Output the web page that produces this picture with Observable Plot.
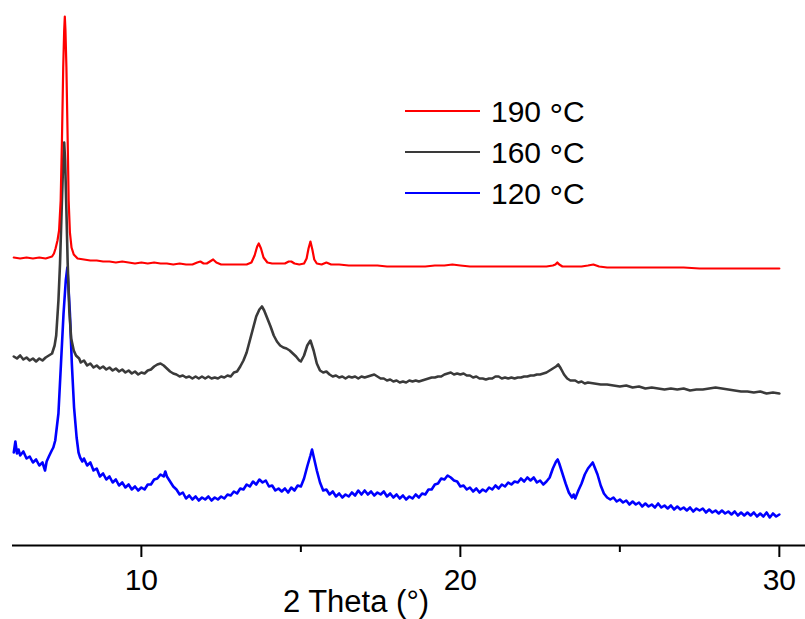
<!DOCTYPE html>
<html>
<head>
<meta charset="utf-8">
<script src="https://cdn.jsdelivr.net/npm/d3@7"></script>
<script src="https://cdn.jsdelivr.net/npm/@observablehq/plot@0.6"></script>
<style>
  html, body { margin: 0; padding: 0; background: #fff; }
  #wrap { position: relative; width: 805px; height: 619px; }
  #wrap svg { display: block; }
  #overlay { position: absolute; left: 0; top: 0; pointer-events: none; }
</style>
</head>
<body>
<div id="wrap"></div>
<script>
// XRD patterns: [2θ (°), stacked intensity (a.u.)]
const series190 = [
[6.00,288],[6.20,287],[6.40,288],[6.60,287],[6.80,288],[7.00,287],[7.10,288],[7.20,289],[7.26,292],[7.31,297],
[7.37,305],[7.42,315],[7.47,345],[7.51,405],[7.55,478],[7.58,515],[7.60,529],[7.62,515],[7.65,478],[7.69,405],
[7.72,345],[7.76,313],[7.81,298],[7.88,291],[8.00,287],[8.20,286],[8.40,285],[8.60,285],[8.80,284],[9.00,284],
[9.20,283],[9.40,284],[9.60,283],[9.80,282],[10.00,283],[10.20,282],[10.40,283],[10.60,282],[10.80,282],[11.00,281],
[11.20,282],[11.40,281],[11.60,281],[11.75,283],[11.85,284],[11.95,282],[12.05,282],[12.15,284],[12.25,286],[12.35,283],
[12.50,281],[12.70,281],[12.90,281],[13.10,281],[13.30,281],[13.45,283],[13.55,290],[13.63,299],[13.68,302],[13.75,297],
[13.83,288],[13.95,283],[14.10,282],[14.30,282],[14.50,282],[14.62,284],[14.70,284],[14.80,282],[14.95,281],[15.10,282],
[15.18,287],[15.24,297],[15.30,304],[15.36,296],[15.42,286],[15.50,282],[15.65,281],[15.80,283],[15.95,281],[16.20,281],
[16.50,280],[16.80,280],[17.10,280],[17.40,280],[17.70,279],[18.00,279],[18.30,279],[18.60,279],[18.90,279],[19.20,280],
[19.50,280],[19.75,281],[20.00,280],[20.30,279],[20.60,279],[20.90,279],[21.20,279],[21.50,279],[21.80,279],[22.10,279],
[22.40,279],[22.70,279],[22.90,280],[22.98,281],[23.04,283],[23.10,281],[23.20,279],[23.50,279],[23.80,279],[24.00,280],
[24.17,281],[24.35,279],[24.60,278],[25.00,278],[25.50,278],[26.00,278],[26.50,278],[27.00,278],[27.50,277],[28.00,277],
[28.50,277],[29.00,277],[29.50,277],[30.00,277]
];
const series160 = [
[6.00,189],[6.10,187],[6.20,190],[6.30,186],[6.40,188],[6.50,185],[6.60,187],[6.70,184],[6.80,187],[6.90,185],
[7.00,188],[7.10,190],[7.20,192],[7.28,200],[7.33,210],[7.40,245],[7.45,282],[7.50,335],[7.55,385],[7.58,403],
[7.61,385],[7.65,335],[7.69,282],[7.74,235],[7.80,207],[7.88,195],[7.95,190],[8.05,187],[8.10,183],[8.20,185],
[8.30,180],[8.40,182],[8.50,178],[8.60,180],[8.70,177],[8.80,179],[8.90,176],[9.00,178],[9.10,175],[9.20,177],
[9.30,174],[9.40,176],[9.50,173],[9.60,175],[9.70,172],[9.80,174],[9.90,171],[10.00,173],[10.10,172],[10.20,175],
[10.30,176],[10.40,179],[10.50,181],[10.60,182],[10.70,180],[10.80,177],[10.90,174],[11.00,172],[11.10,171],[11.20,169],
[11.30,170],[11.40,168],[11.50,169],[11.60,167],[11.70,169],[11.80,167],[11.90,169],[12.00,167],[12.10,169],[12.20,167],
[12.30,168],[12.40,167],[12.50,169],[12.60,168],[12.70,170],[12.80,169],[12.90,173],[13.00,174],[13.10,179],[13.20,185],
[13.30,193],[13.40,205],[13.50,217],[13.60,229],[13.70,236],[13.78,239],[13.85,235],[13.95,227],[14.05,219],[14.15,210],
[14.25,204],[14.35,200],[14.45,198],[14.55,197],[14.65,195],[14.75,192],[14.85,189],[14.95,185],[15.00,184],[15.10,190],
[15.20,200],[15.30,205],[15.40,195],[15.50,182],[15.60,175],[15.70,173],[15.80,174],[15.90,171],[16.00,169],[16.10,170],
[16.20,168],[16.30,169],[16.40,167],[16.50,169],[16.60,168],[16.70,169],[16.80,167],[16.90,169],[17.00,168],[17.10,169],
[17.20,170],[17.30,171],[17.40,169],[17.50,167],[17.60,167],[17.70,165],[17.80,166],[17.90,164],[18.00,165],[18.10,163],
[18.20,164],[18.30,163],[18.40,165],[18.50,164],[18.60,165],[18.70,164],[18.80,165],[18.90,166],[19.00,167],[19.10,168],
[19.20,168],[19.30,169],[19.40,169],[19.50,171],[19.60,172],[19.70,173],[19.80,171],[19.90,172],[20.00,171],[20.10,172],
[20.20,170],[20.30,170],[20.40,168],[20.50,169],[20.60,167],[20.70,167],[20.80,166],[20.90,167],[21.00,167],[21.10,169],
[21.20,169],[21.30,167],[21.40,168],[21.50,167],[21.60,168],[21.70,167],[21.80,168],[21.90,168],[22.00,169],[22.10,169],
[22.20,170],[22.30,170],[22.40,171],[22.50,171],[22.60,172],[22.70,173],[22.80,175],[22.90,177],[23.00,179],[23.07,181],
[23.15,177],[23.25,171],[23.35,167],[23.45,165],[23.60,165],[23.70,163],[23.80,164],[23.90,162],[24.00,163],[24.20,162],
[24.40,161],[24.60,161],[24.80,160],[25.00,159],[25.20,160],[25.40,158],[25.60,159],[25.80,157],[26.00,158],[26.20,157],
[26.40,156],[26.60,157],[26.80,156],[27.00,157],[27.20,155],[27.40,156],[27.60,156],[27.80,157],[28.00,158],[28.20,157],
[28.40,156],[28.60,155],[28.80,154],[29.00,154],[29.20,153],[29.40,154],[29.60,152],[29.80,153],[30.00,152]
];
const series120 = [
[6.00,93],[6.05,104],[6.10,92],[6.15,96],[6.20,90],[6.30,94],[6.40,87],[6.50,89],[6.60,83],[6.70,86],
[6.80,80],[6.90,83],[6.98,75],[7.03,84],[7.10,89],[7.19,95],[7.24,98],[7.30,105],[7.40,132],[7.48,182],
[7.56,232],[7.63,265],[7.68,278],[7.76,232],[7.82,182],[7.89,138],[7.97,108],[8.03,93],[8.08,88],[8.15,84],
[8.20,87],[8.30,80],[8.40,83],[8.50,75],[8.60,77],[8.70,69],[8.80,72],[8.90,66],[9.00,69],[9.10,63],
[9.20,66],[9.30,60],[9.40,63],[9.50,58],[9.60,61],[9.70,56],[9.80,59],[9.90,55],[10.00,58],[10.10,56],
[10.20,61],[10.30,61],[10.40,66],[10.50,67],[10.60,71],[10.70,69],[10.75,74],[10.80,69],[10.90,64],[11.00,59],
[11.10,56],[11.20,51],[11.30,53],[11.40,47],[11.50,50],[11.60,46],[11.70,49],[11.80,45],[11.90,48],[12.00,46],
[12.10,49],[12.20,45],[12.30,48],[12.40,46],[12.50,49],[12.60,47],[12.70,51],[12.80,50],[12.90,54],[13.00,52],
[13.10,57],[13.20,56],[13.30,61],[13.40,59],[13.50,64],[13.60,61],[13.70,66],[13.80,63],[13.90,65],[14.00,59],
[14.10,60],[14.20,55],[14.30,57],[14.40,54],[14.50,57],[14.60,53],[14.70,58],[14.80,55],[14.90,60],[15.00,59],
[15.10,67],[15.20,79],[15.30,90],[15.35,96],[15.40,89],[15.50,75],[15.60,63],[15.70,55],[15.80,56],[15.90,51],
[16.00,54],[16.10,49],[16.20,52],[16.30,48],[16.40,51],[16.50,49],[16.60,53],[16.70,50],[16.80,55],[16.90,51],
[17.00,55],[17.10,51],[17.20,54],[17.30,50],[17.40,53],[17.50,51],[17.60,54],[17.70,49],[17.80,52],[17.90,48],
[18.00,51],[18.10,47],[18.20,50],[18.30,46],[18.40,49],[18.50,47],[18.60,51],[18.70,48],[18.80,52],[18.90,51],
[19.00,56],[19.10,56],[19.20,61],[19.30,62],[19.40,67],[19.50,66],[19.60,70],[19.70,68],[19.80,65],[19.90,64],
[20.00,59],[20.10,60],[20.20,56],[20.30,58],[20.40,54],[20.50,57],[20.60,53],[20.70,56],[20.80,54],[20.90,58],
[21.00,56],[21.10,60],[21.20,57],[21.30,61],[21.40,59],[21.50,63],[21.60,61],[21.70,64],[21.80,63],[21.90,67],
[22.00,64],[22.10,68],[22.20,65],[22.30,68],[22.40,63],[22.50,65],[22.60,61],[22.70,64],[22.80,68],[22.90,77],
[23.00,84],[23.05,86],[23.10,82],[23.20,72],[23.30,62],[23.40,53],[23.50,48],[23.55,51],[23.60,47],[23.70,55],
[23.80,62],[23.90,71],[24.00,77],[24.10,81],[24.15,83],[24.20,79],[24.30,71],[24.40,60],[24.50,52],[24.60,48],
[24.70,46],[24.80,48],[24.90,44],[25.00,46],[25.10,43],[25.20,45],[25.30,41],[25.40,44],[25.50,41],[25.60,43],
[25.70,39],[25.80,42],[25.90,39],[26.00,41],[26.10,38],[26.20,42],[26.30,38],[26.40,40],[26.50,37],[26.60,40],
[26.70,36],[26.80,39],[26.90,36],[27.00,38],[27.10,35],[27.20,38],[27.30,34],[27.40,37],[27.50,35],[27.60,37],
[27.70,33],[27.80,36],[27.90,33],[28.00,35],[28.10,32],[28.20,35],[28.30,32],[28.40,34],[28.50,31],[28.60,34],
[28.70,30],[28.80,33],[28.90,30],[29.00,33],[29.10,30],[29.20,33],[29.30,29],[29.40,32],[29.50,29],[29.60,33],
[29.70,28],[29.80,32],[29.90,29],[30.00,31]
];

const seriesNames = ["190 °C", "160 °C", "120 °C"];
const seriesColors = ["#ff0000", "#3a3a3a", "#0000ff"];
const seriesWidths = [2.2, 2.6, 2.6];
const majorTicks = [10, 20, 30];
const minorTicks = [15, 25];
const xTitle = "2 Theta (°)";

const toRows = (arr, name) => arr.map(([t, i]) => ({theta: t, intensity: i, name}));
const layers = [
  {data: toRows(series120, seriesNames[2]), color: seriesColors[2], w: seriesWidths[2]},
  {data: toRows(series160, seriesNames[1]), color: seriesColors[1], w: seriesWidths[1]},
  {data: toRows(series190, seriesNames[0]), color: seriesColors[0], w: seriesWidths[0]}
];

const chart = Plot.plot({
  width: 805,
  height: 619,
  marginLeft: 12,
  marginRight: 0,
  marginTop: 0,
  marginBottom: 74,
  style: {fontFamily: "'Liberation Sans', Arial, sans-serif", fontSize: "30px", background: "#fff", color: "#000"},
  x: {domain: [5.96, 30.82]},
  y: {domain: [0, 545], axis: null},
  marks: [
    Plot.ruleY([0], {stroke: "#000", strokeWidth: 2}),
    Plot.axisX({ticks: majorTicks, tickSize: 12, tickPadding: 11, strokeWidth: 2, label: null, fontSize: 30, tickFormat: d => String(d)}),
    Plot.axisX({ticks: minorTicks, tickSize: 7, strokeWidth: 2, label: null, tickFormat: () => ""}),
    ...layers.map(l => Plot.line(l.data, {x: "theta", y: "intensity", stroke: l.color, strokeWidth: l.w, strokeLinejoin: "round"}))
  ]
});

const wrap = document.getElementById("wrap");
wrap.appendChild(chart);

// Legend + axis title overlay
const ov = d3.select(wrap).append("svg")
  .attr("id", "overlay").attr("width", 805).attr("height", 619)
  .style("font-family", "'Liberation Sans', Arial, sans-serif");

const legY = [111, 152, 193];
seriesNames.forEach((n, i) => {
  ov.append("line").attr("x1", 405).attr("x2", 480).attr("y1", legY[i]).attr("y2", legY[i])
    .attr("stroke", seriesColors[i]).attr("stroke-width", 2);
  const [num] = n.split(" ");
  const t = ov.append("text").attr("x", 491).attr("y", legY[i] + 11).attr("font-size", 30).attr("fill", "#000");
  t.append("tspan").text(num + " ");
  t.append("tspan").attr("dy", 5).attr("font-size", 34).text("°");
  t.append("tspan").attr("dy", -5).text("C");
});

ov.append("text").attr("x", 356).attr("y", 612).attr("text-anchor", "middle")
  .attr("font-size", 31).attr("fill", "#000").text(xTitle);
</script>
</body>
</html>
